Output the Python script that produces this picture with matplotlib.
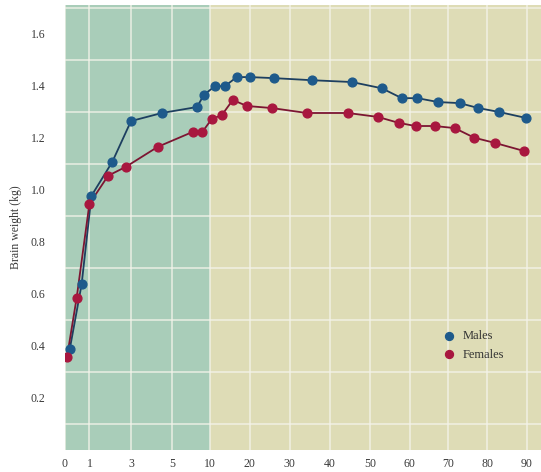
import numpy as np
import matplotlib
matplotlib.use("Agg")
import matplotlib.pyplot as plt
from matplotlib.scale import FuncScale

# ─── data (age in years, brain weight in kg) ──────────────────────────────────
male_age = [0.2, 0.68, 1.1, 2.1, 3.0, 4.5, 8.3, 9.2, 11.25, 13.75, 16.75, 20,
            26, 35.5, 45.5, 53, 58, 62, 67.5, 73, 77.8, 83, 89.75]
male_wt = [0.39, 0.636, 0.977, 1.107, 1.264, 1.295, 1.318, 1.364, 1.398, 1.398,
           1.433, 1.433, 1.429, 1.421, 1.414, 1.39, 1.352, 1.352, 1.337, 1.333,
           1.314, 1.299, 1.276]

female_age = [0.08, 0.48, 1.0, 1.9, 2.75, 4.3, 7.7, 9.0, 10.5, 13, 15.75, 19.25,
              25.5, 34.25, 44.5, 52, 57.25, 61.5, 66.5, 71.75, 76.75, 82, 89.25]
female_wt = [0.356, 0.586, 0.946, 1.054, 1.088, 1.165, 1.222, 1.222, 1.272,
             1.287, 1.345, 1.322, 1.314, 1.295, 1.295, 1.28, 1.257, 1.245,
             1.245, 1.237, 1.2, 1.18, 1.149]

x_ticks = [0, 1, 3, 5, 10, 20, 30, 40, 50, 60, 70, 80, 90]
y_ticks = [0.2, 0.4, 0.6, 0.8, 1.0, 1.2, 1.4, 1.6]

# ─── piecewise x scale (childhood stretched) ──────────────────────────────────
age_knots = np.array([0, 1, 3, 5, 10, 20, 30, 40, 50, 60, 70, 80, 90, 100])
pos_knots = np.array([0, 0.61, 1.65, 2.68, 3.62, 4.62, 5.62, 6.62, 7.62,
                      8.62, 9.57, 10.55, 11.55, 12.55])


def fwd(a):
    return np.interp(a, age_knots, pos_knots)


def inv(p):
    return np.interp(p, pos_knots, age_knots)


GREEN = "#a9cdb9"
YELLOW = "#dedcb6"
BLUE = "#1e5a8b"
BLUE_LINE = "#1d3f60"
RED = "#a8173f"
RED_LINE = "#7c1532"
TXT = "#3a3a3a"

plt.rcParams["font.family"] = ["Liberation Serif", "DejaVu Serif"]

fig = plt.figure(figsize=(5.41, 4.72), dpi=100)
ax = fig.add_axes([65 / 541, 1 - 450 / 472, 1 - 65 / 541, 445 / 472])
ax.set_xscale(FuncScale(ax.xaxis, (fwd, inv)))
ax.set_xlim(0, inv(11.9))
ax.set_ylim(0, 1.71)

ax.set_facecolor(YELLOW)
ax.axvspan(0, 10, color=GREEN, lw=0, zorder=1)

ax.set_xticks(x_ticks)
ax.set_xticklabels([str(t) for t in x_ticks])
ax.set_yticks(y_ticks)
ax.set_yticklabels([f"{t:.1f}" for t in y_ticks])
ax.set_yticks(np.arange(0.1, 1.71, 0.1), minor=True)
ax.tick_params(axis="both", which="both", length=0, labelsize=8.5, colors=TXT)
ax.tick_params(axis="y", pad=14)
ax.tick_params(axis="x", pad=6)

ax.set_axisbelow(False)
ax.grid(True, which="major", axis="x", color="#f4f4ea", lw=1.2, alpha=0.8, zorder=2)
ax.grid(True, which="minor", axis="y", color="#f4f4ea", lw=1.2, alpha=0.8, zorder=2)
ax.grid(False, which="major", axis="y")
for s in ax.spines.values():
    s.set_visible(False)

ax.plot(male_age, male_wt, color=BLUE_LINE, lw=1.3, zorder=3)
ax.plot(female_age, female_wt, color=RED_LINE, lw=1.3, zorder=3)
ax.scatter(male_age, male_wt, s=40, color=BLUE, zorder=4, label="Males")
ax.scatter(female_age, female_wt, s=40, color=RED, zorder=4, label="Females")

ax.set_ylabel("Brain weight (kg)", fontsize=8.5, color=TXT, labelpad=6)

ax.legend(loc="center left", bbox_to_anchor=(0.757, 0.235), frameon=False,
          fontsize=9, handletextpad=0.1, labelspacing=0.5, markerscale=0.9,
          labelcolor="#333333")

fig.savefig("out.png", dpi=100, facecolor="white")
